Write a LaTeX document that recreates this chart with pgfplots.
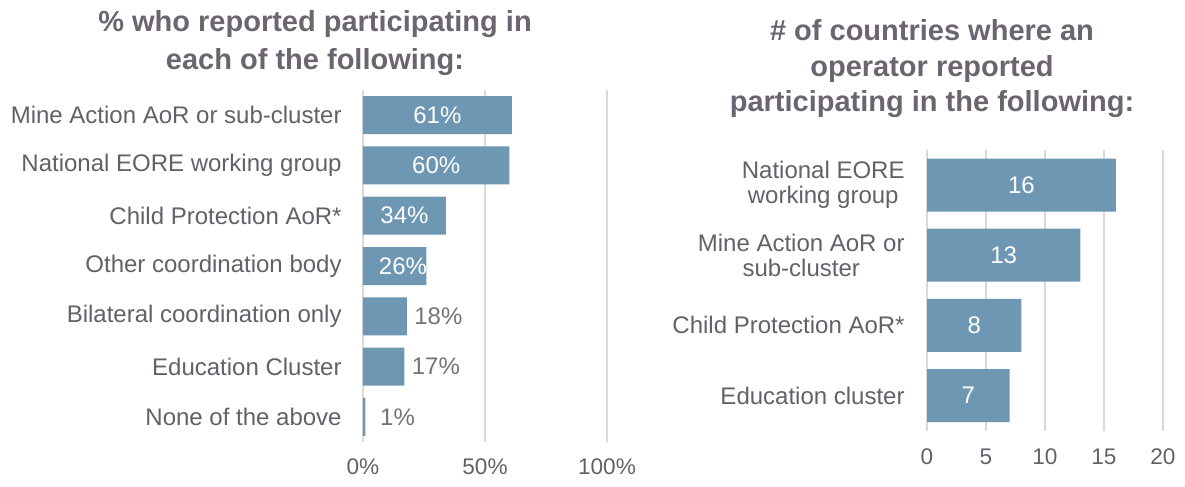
\documentclass[border=0pt]{standalone}
\usepackage{fontspec}
\setmainfont{Liberation Sans}
\usepackage{pgfplots}
\pgfplotsset{compat=1.18}
\usepackage{pgfplotstable}
\definecolor{barc}{RGB}{109,151,178}
\definecolor{txt}{RGB}{100,95,105}
\definecolor{ttl}{RGB}{108,101,112}
\definecolor{lbl}{RGB}{118,114,121}
\definecolor{gridc}{RGB}{217,217,217}

\pgfplotstableread{
i v
0 61
1 60
2 34
3 26
4 18
5 17
6 1
}\leftbars
\pgfplotstableread{
i lx v
0 30.5 61
1 30 60
2 17 34
3 16.4 26
}\leftin
\pgfplotstableread{
i lx v
4 18 18
5 17 17
6 4 1
}\leftout
\pgfplotstableread{
i v
0 16
1 13
2 8
3 7
}\rightbars

\begin{document}
\begin{tikzpicture}[x=1pt,y=1pt]
\useasboundingbox (0,0) rectangle (592.5,-243.5);
% titles
\begin{scope}[every node/.style={anchor=base, text=ttl, font=\fontsize{14.5}{18}\selectfont\bfseries, inner sep=0pt}]
\node at (157.5,-16) {\% who reported participating in};
\node at (157.5,-34.5) {each of the following:};
\node at (466,-20) {\# of countries where an};
\node at (466,-38) {operator reported};
\node at (466,-56) {participating in the following:};
\end{scope}

\begin{axis}[at={(181.5pt,-221pt)}, anchor=south west, scale only axis,
  width=122pt, height=176pt,
  xmin=0, xmax=100, ymin=-0.5, ymax=6.5, y dir=reverse,
  xtick={0,50,100}, xticklabels={0\%,50\%,100\%},
  ytick={0,...,6},
  yticklabels={Mine Action AoR or sub-cluster, National EORE working group, Child Protection AoR*, Other coordination body, Bilateral coordination only, Education Cluster, None of the above},
  axis line style={draw=none}, major tick length=0pt,
  xmajorgrids, grid style={gridc, line width=1pt},
  xticklabel style={font=\fontsize{11.3}{13}\selectfont, text=txt, inner sep=0pt, yshift=-8pt},
  yticklabel style={font=\fontsize{12}{14}\selectfont, text=txt, inner sep=0pt, xshift=-10.5pt},
  clip=false]
\addplot[xbar, bar width=19pt, fill=barc, draw=none] table[x=v,y=i]{\leftbars};
\addplot[draw=none, nodes near coords={\pgfplotspointmeta\%}, point meta=explicit symbolic,
  every node near coord/.append style={anchor=center, text=white, inner sep=0pt, font=\fontsize{12}{14}\selectfont}]
  table[x=lx,y=i,meta=v]{\leftin};
\addplot[draw=none, nodes near coords={\pgfplotspointmeta\%}, point meta=explicit symbolic,
  every node near coord/.append style={anchor=west, xshift=3.5pt, text=lbl, inner sep=0pt, font=\fontsize{12}{14}\selectfont}]
  table[x=lx,y=i,meta=v]{\leftout};
\end{axis}

\begin{axis}[at={(463.5pt,-215.3pt)}, anchor=south west, scale only axis,
  width=118pt, height=140.3pt,
  xmin=0, xmax=20, ymin=-0.5, ymax=3.5, y dir=reverse,
  xtick={0,5,10,15,20}, xticklabels={0,5,10,15,20},
  ytick={0,...,3},
  yticklabels={{National EORE\\working group},{Mine Action AoR or\\sub-cluster},{Child Protection AoR*},{Education cluster}},
  axis line style={draw=none}, major tick length=0pt,
  xmajorgrids, grid style={gridc, line width=1pt},
  xticklabel style={font=\fontsize{11.3}{13}\selectfont, text=txt, inner sep=0pt, yshift=-9pt},
  yticklabel style={font=\fontsize{12}{12.5}\selectfont, text=txt, inner sep=0pt, xshift=-11pt, align=center},
  clip=false]
\addplot[xbar, bar width=26.5pt, fill=barc, draw=none] table[x=v,y=i]{\rightbars};
\addplot[draw=none, nodes near coords, point meta=explicit symbolic,
  every node near coord/.append style={anchor=center, text=white, inner sep=0pt, font=\fontsize{12}{14}\selectfont}]
  table[x expr=\thisrow{v}/2,y=i,meta=v]{\rightbars};
\end{axis}
\end{tikzpicture}
\end{document}
